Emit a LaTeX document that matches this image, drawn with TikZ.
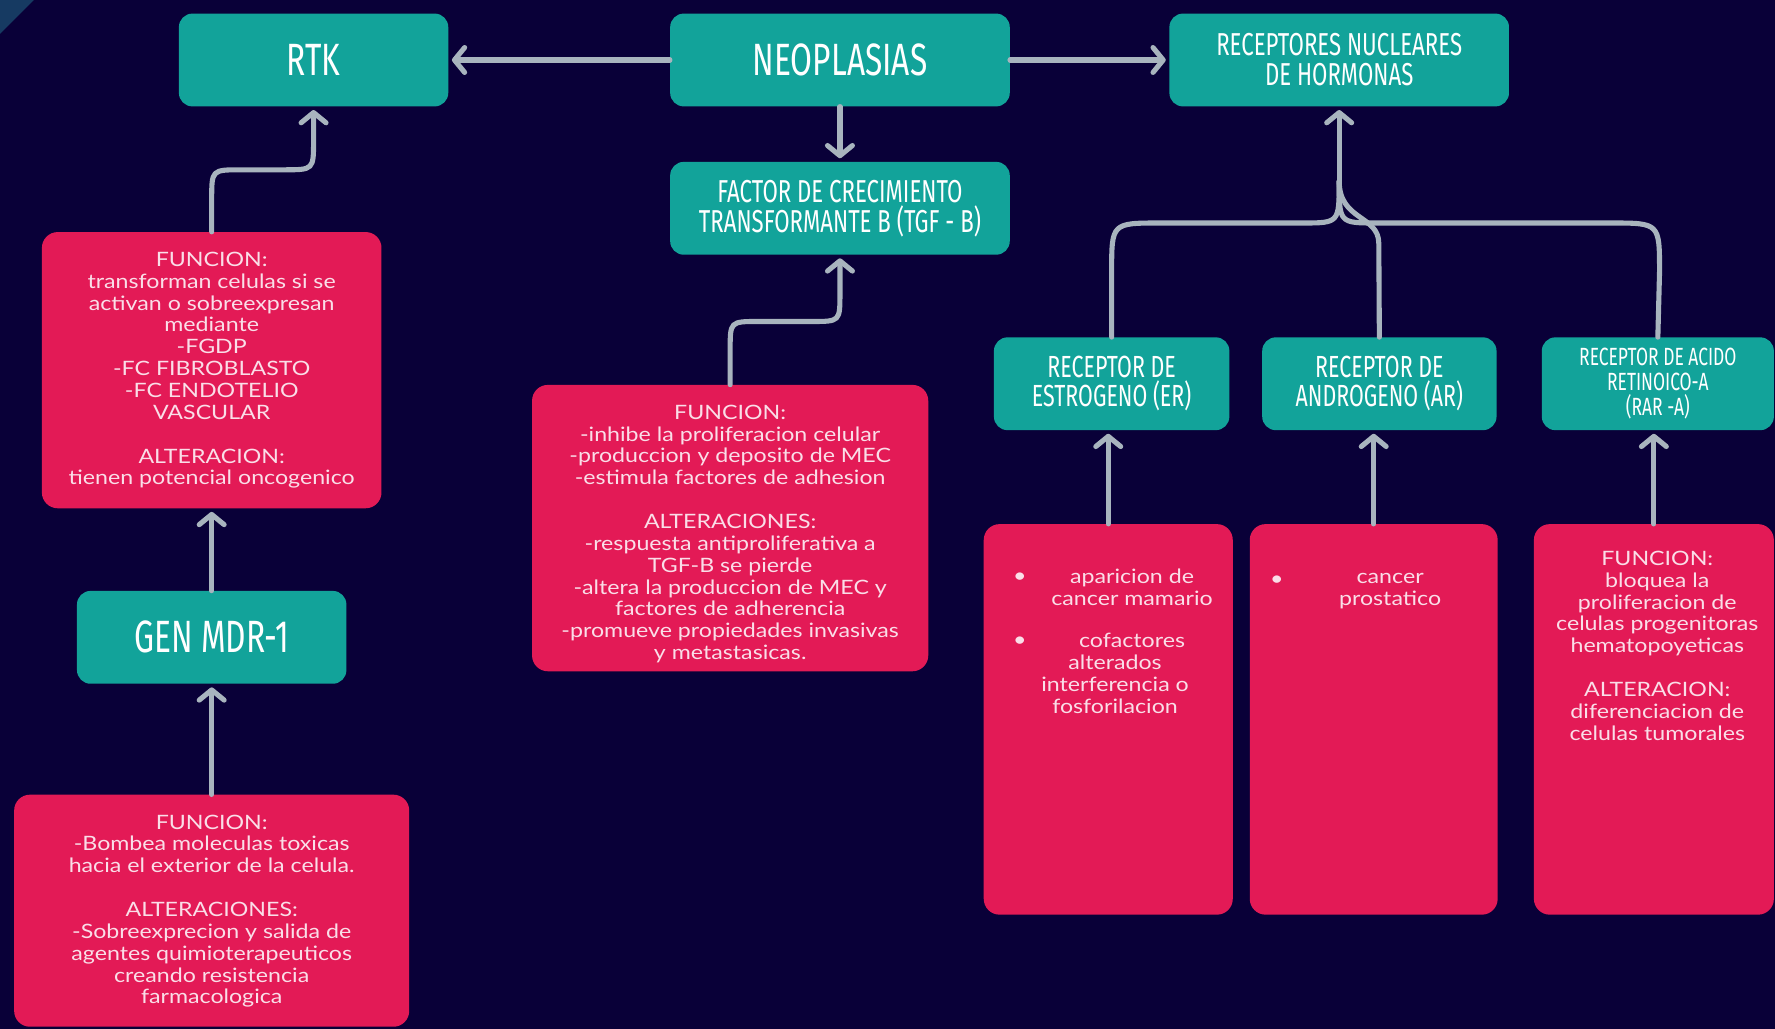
\documentclass[tikz,border=0pt]{standalone}
\usepackage{fontspec}
\setmainfont{Lato}
\newfontfamily\bodyfont[FakeStretch=1.17]{Lato}
\newfontfamily\titlefont[FakeStretch=0.7]{Fira Sans}
\usetikzlibrary{arrows.meta}
\definecolor{bgc}{RGB}{9,0,56}
\definecolor{cornerc}{RGB}{22,58,98}
\definecolor{tealbox}{RGB}{18,163,154}
\definecolor{pinkbox}{RGB}{227,26,86}
\definecolor{arrowc}{RGB}{168,180,190}
\definecolor{pinktext}{RGB}{250,222,232}
\tikzset{
  tbox/.style={fill=tealbox, rounded corners=12pt, text=white, align=center, inner sep=0pt, minimum height=82pt},
  bigtitle/.style={font=\titlefont\fontsize{40}{44}\selectfont},
  midtitle/.style={font=\titlefont\fontsize{28}{26.5}\selectfont},
  rectitle/.style={font=\titlefont\fontsize{27}{26}\selectfont},
  smalltitle/.style={font=\titlefont\fontsize{22}{22}\selectfont},
  pbox/.style={fill=pinkbox, rounded corners=14pt, inner sep=0pt},
  ptext/.style={text=pinktext, align=center, inner sep=0pt, anchor=north, font=\bodyfont\fontsize{17.5}{19.3}\selectfont},
  bul/.style={text=pinktext, inner sep=0pt, font=\bodyfont\fontsize{17.5}{19.3}\selectfont},
  conn/.style={draw=arrowc, line width=4.5pt, line cap=round, line join=round},
  arr/.style={conn, shorten >=3pt, -{Straight Barb[length=9pt,width=22pt,round]}}
}
\begin{document}
\begin{tikzpicture}[x=1pt,y=-1pt]
\useasboundingbox (0,0) rectangle (1568,909);
\fill[bgc] (0,0) rectangle (1568,909);
\fill[cornerc] (0,0) -- (30,0) -- (0,30) -- cycle;

% teal boxes
\node[tbox, bigtitle, minimum width=238pt] (rtk) at (277,53) {RTK};
\node[tbox, bigtitle, minimum width=300pt] (neo) at (742,53) {NEOPLASIAS};
\node[tbox, midtitle, minimum width=300pt] (rnh) at (1183,53) {RECEPTORES NUCLEARES\\DE HORMONAS};
\node[tbox, midtitle, minimum width=300pt] (tgf) at (742,184) {FACTOR DE CRECIMIENTO\\TRANSFORMANTE B (TGF - B)};
\node[tbox, bigtitle, minimum width=238pt] (mdr) at (187,563) {GEN MDR-1};
\node[tbox, rectitle, minimum width=208pt] (er) at (982,339) {RECEPTOR DE\\ESTROGENO (ER)};
\node[tbox, rectitle, minimum width=207pt] (ar) at (1218.5,339) {RECEPTOR DE\\ANDROGENO (AR)};
\node[tbox, smalltitle, minimum width=205pt] (rar) at (1464.5,339) {RECEPTOR DE ACIDO\\RETINOICO-A\\(RAR -A)};

% pink boxes
\node[pbox, minimum width=300pt, minimum height=244pt] (prtk) at (187,327) {};
\node[pbox, minimum width=349pt, minimum height=205pt] (pmdr) at (187,804.5) {};
\node[pbox, minimum width=350pt, minimum height=253pt] (ptgf) at (645,466.5) {};
\node[pbox, minimum width=220pt, minimum height=345pt] (per) at (979,635.5) {};
\node[pbox, minimum width=219pt, minimum height=345pt] (par) at (1213.5,635.5) {};
\node[pbox, minimum width=212pt, minimum height=345pt] (prar) at (1461,635.5) {};

% pink texts
\node[ptext] (trtk) at (187,222.5) {FUNCION:\\transforman celulas si se\\activan o sobreexpresan\\mediante\\-FGDP\\-FC FIBROBLASTO\\-FC ENDOTELIO\\VASCULAR\\[19.3pt]ALTERACION:\\tienen potencial oncogenico};
\node[ptext] (ttgf) at (645,357.5) {FUNCION:\\-inhibe la proliferacion celular\\-produccion y deposito de MEC\\-estimula factores de adhesion\\[19.3pt]ALTERACIONES:\\-respuesta antiproliferativa a\\TGF-B se pierde\\-altera la produccion de MEC y\\factores de adherencia\\-promueve propiedades invasivas\\y metastasicas.};
\node[ptext] (tmdr) at (187,719.5) {FUNCION:\\-Bombea moleculas toxicas\\hacia el exterior de la celula.\\[19.3pt]ALTERACIONES:\\-Sobreexprecion y salida de\\agentes quimioterapeuticos\\creando resistencia\\farmacologica};
\node[ptext] (trar) at (1464,486.5) {FUNCION:\\bloquea la\\proliferacion de\\celulas progenitoras\\hematopoyeticas\\[19.3pt]ALTERACION:\\diferenciacion de\\celulas tumorales};
\node[bul] (b1) at (901,510) {•};
\node[ptext] (ter1) at (1000,502.5) {aparicion de\\cancer mamario};
\node[bul] (b2) at (901,567) {•};
\node[ptext] (ter2) at (985,559.5) {\hspace*{30pt}cofactores\\alterados\\interferencia o\\fosforilacion};
\node[bul] (b3) at (1128,513) {•};
\node[ptext] (tar) at (1228,506.5) {cancer\\prostatico};

% connectors
\draw[arr] (neo.west) -- (rtk.east);
\draw[arr] (neo.east) -- (rnh.west);
\draw[arr] (neo.south) -- (tgf.north);
\draw[arr] (prtk.north) -- (187,176) .. controls (187,150) .. (213,150) -- (251,150) .. controls (277,150) .. (277,124) -- (rtk.south);
\draw[arr] (mdr.north) -- (prtk.south);
\draw[arr] (pmdr.north) -- (mdr.south);
\draw[arr] (ptgf.north) -- (645,309) .. controls (645,284) .. (670,284) -- (717,284) .. controls (742,284) .. (742,259) -- (tgf.south);

\coordinate (j) at (1183,160);
\draw[conn] (er.north) -- (982,240) .. controls (982,197) .. (1025,197) -- (1150,197) .. controls (1183,197) .. (j);
\draw[conn] (ar.north) -- (1218,215) .. controls (1218,190) and (1183,195) .. (j);
\draw[conn] (rar.north) -- (1466,240) .. controls (1466,197) .. (1423,197) -- (1216,197) .. controls (1183,197) .. (j);
\draw[arr] (j) -- (rnh.south);

\draw[arr] (per.north) -- (per.north |- er.south);
\draw[arr] (par.north) -- (par.north |- ar.south);
\draw[arr] (prar.north) -- (prar.north |- rar.south);
\end{tikzpicture}
\end{document}
